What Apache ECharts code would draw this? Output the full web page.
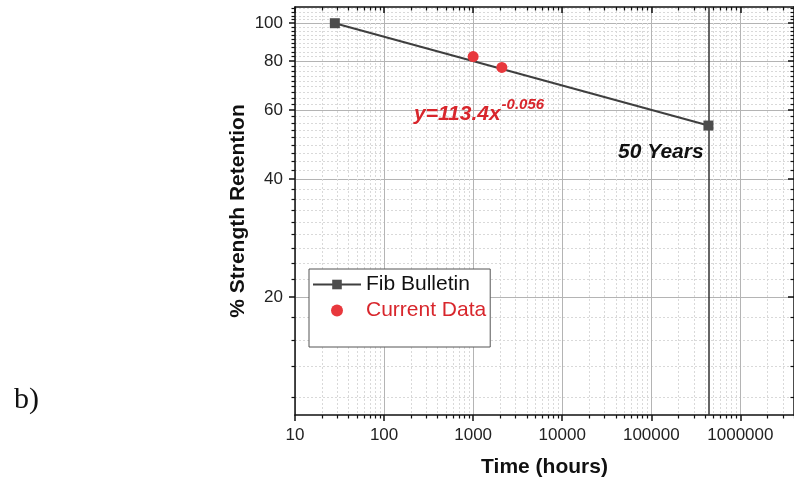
<!DOCTYPE html>
<html>
<head>
<meta charset="utf-8">
<script src="https://cdn.jsdelivr.net/npm/echarts@6/dist/echarts.min.js"></script>
<style>
  html, body { margin: 0; padding: 0; background: #fff; }
  #chart { width: 794px; height: 486px; }
</style>
</head>
<body>
<div id="chart"></div>
<script>
// Time axis (hours), logarithmic
const xRange = [10, 4000000];
const xMajorTicks = [10, 100, 1000, 10000, 100000, 1000000];
// Strength retention axis (%), logarithmic
const yRange = [10, 110];
const yMajorTicks = [20, 40, 60, 80, 100];

// Series
const fibBulletin = [[28, 100], [438000, 54.8]];
const currentData = [[1000, 82.2], [2100, 77.1]];
const fiftyYearsHours = 438000;

// Minor ticks: 2..9 within each decade of time
const xMinorTicks = [];
xMajorTicks.forEach(function (d) {
  for (let k = 2; k <= 9; k++) {
    const v = d * k;
    if (v <= xRange[1]) xMinorTicks.push(v);
  }
});
// Minor ticks: 8 subdivisions between strength majors (step 20)
const yMinorTicks = [];
for (let i = 0; i < 6; i++) {
  for (let k = 1; k <= 8; k++) {
    const v = i * 20 + k * 20 / 9;
    if (v >= yRange[0] && v <= yRange[1]) yMinorTicks.push(+v.toFixed(4));
  }
}

const FONT = '"Liberation Sans", Arial, sans-serif';
const AXIS_BLACK = '#111';
const MAJOR_GRID = { show: true, lineStyle: { color: '#b4b4b4', width: 1, type: 'solid' } };
const MINOR_GRID = { show: true, lineStyle: { color: '#d9d9d9', width: 1, type: [2, 2] } };

function logAxis(range, extra) {
  return Object.assign({
    type: 'log',
    logBase: 10,
    min: range[0],
    max: range[1],
    axisLine: { show: false, onZero: false },
    axisLabel: { show: false },
    axisTick: { show: false },
    splitLine: { show: false },
    minorTick: { show: false },
    minorSplitLine: { show: false }
  }, extra);
}

const xAxes = [
  // bottom axis: line, major ticks, labels, major grid
  logAxis(xRange, {
    position: 'bottom',
    axisLine: { show: true, onZero: false, lineStyle: { color: AXIS_BLACK, width: 1.5 } },
    axisTick: { show: true, inside: false, length: 6, customValues: xMajorTicks,
                lineStyle: { color: AXIS_BLACK, width: 1.5 } },
    axisLabel: { show: true, customValues: xMajorTicks, margin: 12,
                 formatter: function (v) { return String(Math.round(v)); },
                 fontSize: 17, color: '#222', fontFamily: FONT },
    splitLine: MAJOR_GRID,
    name: 'Time (hours)',
    nameLocation: 'middle',
    nameGap: 42,
    nameMoveOverlap: false,
    nameTextStyle: { fontSize: 21, fontWeight: 'bold', color: '#111', fontFamily: FONT }
  }),
  // bottom axis: minor ticks and minor grid
  logAxis(xRange, {
    position: 'bottom',
    axisTick: { show: true, inside: false, length: 3.5, customValues: xMinorTicks,
                lineStyle: { color: AXIS_BLACK, width: 1.2 } },
    splitLine: MINOR_GRID
  }),
  // top frame with inward ticks
  logAxis(xRange, {
    position: 'top',
    axisLine: { show: true, onZero: false, lineStyle: { color: AXIS_BLACK, width: 1.5 } },
    axisTick: { show: true, inside: true, length: 6, customValues: xMajorTicks,
                lineStyle: { color: AXIS_BLACK, width: 1.5 } }
  }),
  logAxis(xRange, {
    position: 'top',
    axisTick: { show: true, inside: true, length: 3.5, customValues: xMinorTicks,
                lineStyle: { color: AXIS_BLACK, width: 1.2 } }
  })
];

const yAxes = [
  logAxis(yRange, {
    position: 'left',
    axisLine: { show: true, onZero: false, lineStyle: { color: AXIS_BLACK, width: 1.5 } },
    axisTick: { show: true, inside: false, length: 6, customValues: yMajorTicks,
                lineStyle: { color: AXIS_BLACK, width: 1.5 } },
    axisLabel: { show: true, customValues: yMajorTicks, margin: 12,
                 formatter: function (v) { return String(Math.round(v)); },
                 fontSize: 17, color: '#222', fontFamily: FONT },
    splitLine: MAJOR_GRID,
    name: '% Strength Retention',
    nameLocation: 'middle',
    nameRotate: 90,
    nameGap: 46,
    nameMoveOverlap: false,
    nameTextStyle: { fontSize: 21, fontWeight: 'bold', color: '#111', fontFamily: FONT }
  }),
  logAxis(yRange, {
    position: 'left',
    axisTick: { show: true, inside: false, length: 3.5, customValues: yMinorTicks,
                lineStyle: { color: AXIS_BLACK, width: 1.2 } },
    splitLine: MINOR_GRID
  }),
  logAxis(yRange, {
    position: 'right',
    axisLine: { show: true, onZero: false, lineStyle: { color: AXIS_BLACK, width: 1.5 } },
    axisTick: { show: true, inside: true, length: 6, customValues: yMajorTicks,
                lineStyle: { color: AXIS_BLACK, width: 1.5 } }
  }),
  logAxis(yRange, {
    position: 'right',
    axisTick: { show: true, inside: true, length: 3.5, customValues: yMinorTicks,
                lineStyle: { color: AXIS_BLACK, width: 1.2 } }
  })
];

const chart = echarts.init(document.getElementById('chart'), null, { renderer: 'canvas' });

chart.setOption({
  animation: false,
  backgroundColor: '#fff',
  textStyle: { fontFamily: FONT },
  grid: { left: 295, right: 0, top: 7, bottom: 71, containLabel: false },
  xAxis: xAxes,
  yAxis: yAxes,
  legend: {
    orient: 'vertical',
    left: 309,
    top: 269,
    itemWidth: 48,
    itemHeight: 12,
    itemGap: 5,
    padding: [5, 4, 26, 3],
    borderColor: '#555',
    borderWidth: 1,
    borderRadius: 0,
    backgroundColor: '#fff',
    textStyle: { fontSize: 21, fontFamily: FONT },
    data: [
      { name: 'Fib Bulletin', textStyle: { color: '#111' } },
      { name: 'Current Data', textStyle: { color: '#d8262c' } }
    ]
  },
  series: [
    {
      name: 'Fib Bulletin',
      type: 'line',
      xAxisIndex: 0,
      yAxisIndex: 0,
      data: fibBulletin,
      symbol: 'rect',
      symbolSize: 10,
      itemStyle: { color: '#4d4d4d' },
      lineStyle: { color: '#3f3f3f', width: 2 },
      z: 5,
      markLine: {
        silent: true,
        symbol: ['none', 'none'],
        label: { show: false },
        lineStyle: { color: '#333', width: 1.5, type: 'solid' },
        data: [{ xAxis: fiftyYearsHours }]
      }
    },
    {
      name: 'Current Data',
      type: 'scatter',
      xAxisIndex: 0,
      yAxisIndex: 0,
      data: currentData,
      symbol: 'circle',
      symbolSize: 11,
      itemStyle: { color: '#e8383d', opacity: 1 },
      z: 6
    }
  ],
  graphic: [
    {
      type: 'text',
      left: 14,
      top: 385,
      style: { text: 'b)', font: '30px "Liberation Serif", "Times New Roman", serif', fill: '#111' }
    },
    {
      type: 'text',
      left: 414,
      top: 97,
      z: 10,
      style: {
        text: '{b|y=113.4x}{s|-0.056}',
        rich: {
          b: { font: 'italic bold 21px ' + FONT, fill: '#d8262c', verticalAlign: 'bottom', lineHeight: 28 },
          s: { font: 'italic bold 15px ' + FONT, fill: '#d8262c', verticalAlign: 'top', lineHeight: 28, padding: [0, 0, 12, 1] }
        }
      }
    },
    {
      type: 'text',
      left: 618,
      top: 142,
      z: 10,
      style: { text: '50 Years', font: 'italic bold 21px ' + FONT, fill: '#111' }
    }
  ]
});
</script>
</body>
</html>
